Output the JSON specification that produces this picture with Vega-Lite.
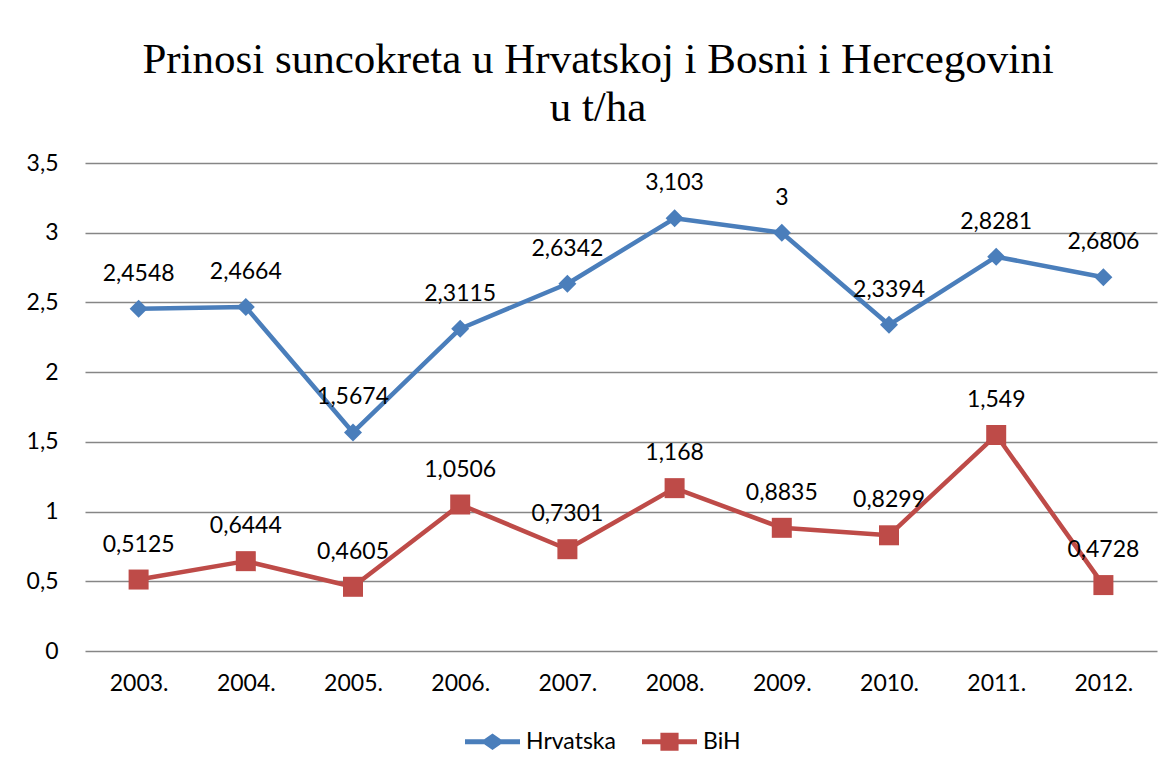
{
  "$schema": "https://vega.github.io/schema/vega-lite/v6.json",
  "width": 1072,
  "height": 488,
  "autosize": {"type": "none"},
  "padding": {"left": 85, "top": 163, "right": 14, "bottom": 123},
  "background": "white",
  "title": {
    "text": ["Prinosi suncokreta u Hrvatskoj i Bosni i Hercegovini", "u t/ha"],
    "font": "Liberation Serif",
    "fontSize": 43,
    "fontWeight": "normal",
    "color": "black",
    "lineHeight": 48,
    "anchor": "middle",
    "dx": -23,
    "offset": 22
  },
  "data": {
    "values": [
      {"year": "2003.", "series": "Hrvatska", "value": 2.4548},
      {"year": "2004.", "series": "Hrvatska", "value": 2.4664},
      {"year": "2005.", "series": "Hrvatska", "value": 1.5674},
      {"year": "2006.", "series": "Hrvatska", "value": 2.3115},
      {"year": "2007.", "series": "Hrvatska", "value": 2.6342},
      {"year": "2008.", "series": "Hrvatska", "value": 3.103},
      {"year": "2009.", "series": "Hrvatska", "value": 3},
      {"year": "2010.", "series": "Hrvatska", "value": 2.3394},
      {"year": "2011.", "series": "Hrvatska", "value": 2.8281},
      {"year": "2012.", "series": "Hrvatska", "value": 2.6806},
      {"year": "2003.", "series": "BiH", "value": 0.5125},
      {"year": "2004.", "series": "BiH", "value": 0.6444},
      {"year": "2005.", "series": "BiH", "value": 0.4605},
      {"year": "2006.", "series": "BiH", "value": 1.0506},
      {"year": "2007.", "series": "BiH", "value": 0.7301},
      {"year": "2008.", "series": "BiH", "value": 1.168},
      {"year": "2009.", "series": "BiH", "value": 0.8835},
      {"year": "2010.", "series": "BiH", "value": 0.8299},
      {"year": "2011.", "series": "BiH", "value": 1.549},
      {"year": "2012.", "series": "BiH", "value": 0.4728}
    ]
  },
  "encoding": {
    "x": {
      "field": "year",
      "type": "ordinal",
      "sort": null,
      "axis": {
        "title": null,
        "labelAngle": 0,
        "domain": false,
        "ticks": false,
        "tickSize": 0,
        "grid": false,
        "labelFont": "Lato",
        "labelFontSize": 23,
        "labelColor": "black",
        "labelPadding": 21
      }
    },
    "y": {
      "field": "value",
      "type": "quantitative",
      "scale": {"domain": [0, 3.5], "nice": false, "zero": true},
      "axis": {
        "title": null,
        "values": [0, 0.5, 1, 1.5, 2, 2.5, 3, 3.5],
        "format": ".1~f",
        "domain": false,
        "ticks": false,
        "tickSize": 0,
        "grid": true,
        "gridColor": "#868686",
        "gridWidth": 1.5,
        "labelFont": "Lato",
        "labelFontSize": 23,
        "labelColor": "black",
        "labelPadding": 27
      }
    },
    "color": {
      "field": "series",
      "type": "nominal",
      "scale": {"domain": ["Hrvatska", "BiH"], "range": ["#4A7EBB", "#BE4B48"]},
      "legend": {
        "title": null,
        "orient": "none",
        "legendX": 380,
        "legendY": 551,
        "direction": "horizontal",
        "padding": 0,
        "symbolSize": 3025,
        "symbolStrokeWidth": 0,
        "labelFont": "Lato",
        "labelFontSize": 23,
        "labelColor": "black",
        "labelOffset": 6,
        "columnPadding": 26,
        "encode": {
          "symbols": {
            "update": {
              "shape": {"signal": "datum.value === 'Hrvatska' ? 'M-1,-0.09H-0.3L0,-0.3L0.3,-0.09H1V0.09H0.3L0,0.3L-0.3,0.09H-1Z' : 'M-1,-0.09H-0.33V-0.33H0.33V-0.09H1V0.09H0.33V0.33H-0.33V0.09H-1Z'"},
              "size": {"value": 3025},
              "fill": {"signal": "datum.value === 'Hrvatska' ? '#4A7EBB' : '#BE4B48'"},
              "fillOpacity": {"value": 1},
              "opacity": {"value": 1},
              "strokeWidth": {"value": 0}
            }
          }
        }
      }
    }
  },
  "layer": [
    {"mark": {"type": "line", "strokeWidth": 4.5, "strokeJoin": "round", "strokeCap": "round"}},
    {
      "transform": [{"filter": "datum.series === 'Hrvatska'"}],
      "mark": {"type": "point", "shape": "diamond", "size": 324, "filled": true, "opacity": 1}
    },
    {
      "transform": [{"filter": "datum.series === 'BiH'"}],
      "mark": {"type": "point", "shape": "square", "size": 400, "filled": true, "opacity": 1}
    },
    {
      "mark": {"type": "text", "dy": -35, "font": "Lato", "fontSize": 23, "baseline": "middle", "align": "center"},
      "encoding": {
        "text": {"field": "value", "type": "quantitative", "format": ".4~f"},
        "color": {"value": "black"}
      }
    }
  ],
  "config": {
    "view": {"stroke": null},
    "locale": {"number": {"decimal": ",", "thousands": ".", "grouping": [3], "currency": ["", ""]}}
  }
}
